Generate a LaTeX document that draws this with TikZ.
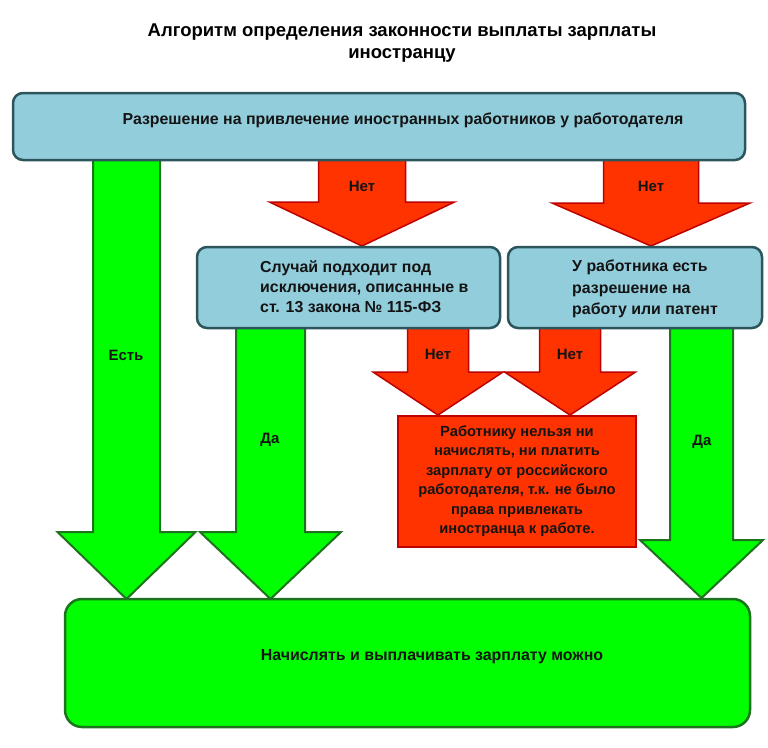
\documentclass[tikz,border=0pt]{standalone}
\usepackage{fontspec}
\setmainfont{Liberation Sans}
\definecolor{boxblue}{RGB}{146,205,220}
\definecolor{boxedge}{RGB}{45,85,92}
\definecolor{grn}{RGB}{0,255,0}
\definecolor{grnedge}{RGB}{30,115,30}
\definecolor{rd}{RGB}{255,51,0}
\definecolor{rdedge}{RGB}{190,0,0}
\definecolor{ink}{RGB}{20,20,20}
\newcommand\blockarr[7]{%
  \path[#1] ({#2-#3},#5) -- ({#2+#3},#5) -- ({#2+#3},#6) -- ({#2+#4},#6) -- (#2,#7)
    -- ({#2-#4},#6) -- ({#2-#3},#6) -- cycle;}
\begin{document}
\begin{tikzpicture}[x=1pt,y=-1pt,
  garr/.style={fill=grn,draw=grnedge,line width=2pt,line join=miter},
  rarr/.style={fill=rd,draw=rdedge,line width=1.5pt,line join=miter},
  bluebox/.style={rectangle,rounded corners=10pt,fill=boxblue,draw=boxedge,line width=2.5pt,inner sep=0pt},
  greenbox/.style={rectangle,rounded corners=17pt,fill=grn,draw=grnedge,line width=2.5pt,inner sep=0pt},
  redbox/.style={rectangle,fill=rd,draw=rdedge,line width=2pt,inner sep=0pt},
  txt/.style={font=\fontsize{15.9}{20}\selectfont\bfseries,text=ink,inner sep=0pt},
  ttl/.style={font=\fontsize{18.5}{23}\selectfont\bfseries,text=black,inner sep=0pt},
  lbl/.style={font=\fontsize{15}{18}\selectfont\bfseries,text=ink,inner sep=0pt}]
\useasboundingbox (0,0) rectangle (768,747);
\fill[white] (0,0) rectangle (768,747);

% title
\node[ttl] (t1) at (402,32) {Алгоритм определения законности выплаты зарплаты};
\node[ttl] (t2) at (402,55) {иностранцу};

% arrows (drawn below boxes)
\blockarr{garr}{126.5}{33.5}{69}{158}{532}{599}
\blockarr{garr}{270.5}{34.5}{70.5}{326}{532}{599}
\blockarr{garr}{701.5}{31.5}{61.5}{326}{540}{598}
\blockarr{rarr}{362}{43.5}{92.5}{158}{202}{246}
\blockarr{rarr}{651}{47.5}{99}{158}{203}{246}
\blockarr{rarr}{438}{30.5}{65}{326}{372}{415}
\blockarr{rarr}{570}{30.5}{65.5}{326}{372}{415}

% boxes
\node[bluebox,minimum width=732pt,minimum height=67pt] (top) at (379,126.5) {};
\node[bluebox,minimum width=303pt,minimum height=81pt] (case) at (348.5,287.5) {};
\node[bluebox,minimum width=254pt,minimum height=81pt] (permit) at (635,287.5) {};
\node[redbox,minimum width=238pt,minimum height=131pt] (deny) at (517,481.5) {};
\node[greenbox,minimum width=685pt,minimum height=128pt] (pay) at (407.5,663) {};

% texts
\node[txt] (toptxt) at (403,120) {Разрешение на привлечение иностранных работников у работодателя};
\node[txt,align=left,anchor=west] (casetxt) at (260,287) {Случай подходит под\\исключения, описанные в\\ст. 13 закона № 115-ФЗ};
\node[txt,align=left,anchor=west,font=\fontsize{15.9}{21.5}\selectfont\bfseries] (permittxt) at (572,289) {У работника есть\\разрешение на\\работу или патент};
\node[txt,align=center,font=\fontsize{14.7}{19.5}\selectfont\bfseries] (denytxt) at (517,481) {Работнику нельзя ни\\начислять, ни платить\\зарплату от российского\\работодателя, т.к. не было\\права привлекать\\иностранца к работе.};
\node[txt] (paytxt) at (432,657) {Начислять и выплачивать зарплату можно};

% arrow labels
\node[lbl] (l1) at (126,355) {Есть};
\node[lbl] (l2) at (270,440) {Да};
\node[lbl] (l3) at (702,442) {Да};
\node[lbl] (l4) at (362,186) {Нет};
\node[lbl] (l5) at (651,186) {Нет};
\node[lbl] (l6) at (438,354) {Нет};
\node[lbl] (l7) at (570,354) {Нет};
\end{tikzpicture}
\end{document}
